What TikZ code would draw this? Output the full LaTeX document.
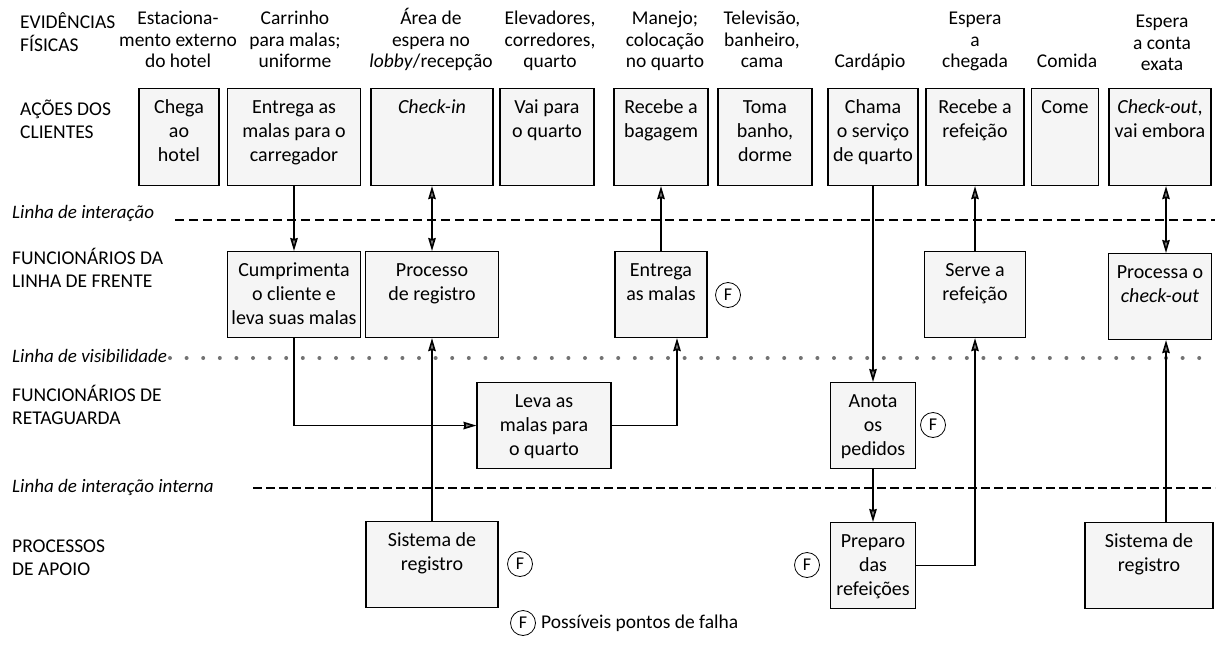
\documentclass[tikz,border=0pt]{standalone}
\usepackage{fontspec}
\setmainfont{Carlito}
\usetikzlibrary{arrows.meta,positioning}

\tikzset{
  lane/.style={anchor=base west, align=left, inner sep=0pt, font=\fontsize{19.5}{23}\selectfont},
  sepline/.style={anchor=base west, inner sep=0pt, font=\fontsize{19}{22}\selectfont\itshape},
  hdr/.style={anchor=base, align=center, inner sep=0pt, font=\fontsize{19.5}{21.5}\selectfont},
  box/.style={draw, fill=black!4, line width=1.1pt, anchor=north, align=flush center,
    inner xsep=0pt, inner ysep=10pt, text height=15pt, font=\fontsize{20}{24}\selectfont},
  actbox/.style={box, text width=#1, text depth=62pt},
  stdbox/.style={box, text width=#1, text depth=51pt},
  fail/.style={circle, draw, line width=0.8pt, minimum size=25pt, inner sep=0pt, font=\fontsize{18}{18}\selectfont},
  arr/.style={line width=1.6pt, -{Stealth[length=13pt, width=7.5pt, inset=1pt, fill=black!50]}},
  darr/.style={line width=1.6pt, {Stealth[length=13pt, width=7.5pt, inset=1pt, fill=black!50]}-{Stealth[length=13pt, width=7.5pt, inset=1pt, fill=black!50]}},
}

\begin{document}
\begin{tikzpicture}[x=1pt, y=-1pt]
  \useasboundingbox (0,0) rectangle (1222,666);

  % swimlane titles
  \node[lane] (ev) at (20,52) {EVIDÊNCIAS\\FÍSICAS};
  \node[lane] (ac) at (20,138) {AÇÕES DOS\\CLIENTES};
  \node[lane] (fr) at (12,287) {FUNCIONÁRIOS DA\\LINHA DE FRENTE};
  \node[lane] (rt) at (12,424) {FUNCIONÁRIOS DE\\RETAGUARDA};
  \node[lane] (ap) at (12,575) {PROCESSOS\\DE APOIO};

  \node[sepline] (li) at (12,218) {Linha de interação};
  \node[sepline] (lv) at (12,362) {Linha de visibilidade};
  \node[sepline] (lii) at (12,492) {Linha de interação interna};

  \draw[line width=1.3pt, dash pattern=on 9pt off 5pt] (175,220) -- (1215,220);
  \draw[black!55, line width=4pt, line cap=round, dash pattern=on 0pt off 16.6pt] (170,358) -- (1215,358);
  \draw[line width=1.8pt, dash pattern=on 9pt off 4pt] (253,488) -- (1215,488);

  % evidencias fisicas
  \node[hdr] (h1) at (178,68) {Estaciona-\\mento externo\\do hotel};
  \node[hdr] (h2) at (295,68) {Carrinho\\para malas;\\uniforme};
  \node[hdr] (h3) at (431,68) {Área de\\espera no\\\textit{lobby}/recepção};
  \node[hdr] (h4) at (550,68) {Elevadores,\\corredores,\\quarto};
  \node[hdr] (h5) at (665,68) {Manejo;\\colocação\\no quarto};
  \node[hdr] (h6) at (762,68) {Televisão,\\banheiro,\\cama};
  \node[hdr] (h7) at (870,68) {Cardápio};
  \node[hdr] (h8) at (975,68) {Espera\\a\\chegada};
  \node[hdr] (h9) at (1067,68) {Comida};
  \node[hdr] (h10) at (1162,71) {Espera\\a conta\\exata};

  % acoes dos clientes
  \node[actbox=80pt] (chega) at (179,88) {Chega\\ao\\hotel};
  \node[actbox=133pt] (entmalas) at (294,88) {Entrega as\\malas para o\\carregador};
  \node[actbox=122pt] (checkin) at (432,88) {\textit{Check-in}};
  \node[actbox=94pt] (vaiquarto) at (547,88) {Vai para\\o quarto};
  \node[actbox=94pt] (bagagem) at (661,88) {Recebe a\\bagagem};
  \node[actbox=94pt] (banho) at (765,88) {Toma\\banho,\\dorme};
  \node[actbox=90pt] (chama) at (873,88) {Chama\\o serviço\\de quarto};
  \node[actbox=98pt] (recref) at (975,88) {Recebe a\\refeição};
  \node[actbox=67pt] (come) at (1065,88) {Come};
  \node[actbox=102pt] (checkout) at (1160,88) {\textit{Check-out},\\vai embora};

  % linha de frente
  \node[stdbox=133pt] (cumpr) at (294,251) {Cumprimenta\\o cliente e\\leva suas malas};
  \node[stdbox=133pt] (registro) at (432,251) {Processo\\de registro};
  \node[stdbox=92pt] (entrega) at (661,251) {Entrega\\as malas};
  \node[stdbox=101pt] (serve) at (975,251) {Serve a\\refeição};
  \node[stdbox=103pt] (processa) at (1160,253) {Processa o\\\textit{check-out}};

  % retaguarda
  \node[stdbox=134pt] (leva) at (544,382) {Leva as\\malas para\\o quarto};
  \node[stdbox=85pt] (anota) at (873,382) {Anota\\os\\pedidos};

  % apoio
  \node[stdbox=132pt] (sistema) at (432,521) {Sistema de\\registro};
  \node[stdbox=85pt] (preparo) at (873,522) {Preparo\\das\\refeições};
  \node[stdbox=128pt] (sistema2) at (1149,522) {Sistema de\\registro};

  % pontos de falha
  \node[fail] (f1) at (728,295) {F};
  \node[fail] (f2) at (933,425) {F};
  \node[fail] (f3) at (520,564) {F};
  \node[fail] (f4) at (807,565) {F};
  \node[fail] (f5) at (523,623) {F};
  \node[right=5pt of f5, inner sep=0pt, font=\fontsize{19.5}{22}\selectfont] (leg) {Possíveis pontos de falha};

  % fluxo
  \draw[arr] (entmalas) -- (cumpr);
  \draw[darr] (checkin) -- (registro);
  \draw[arr] (sistema) -- (registro);
  \draw[arr] (cumpr.south) |- (leva.west);
  \draw[arr] (leva.east) -| ([xshift=16pt]entrega.south);
  \draw[arr] (entrega) -- (bagagem);
  \draw[arr] (chama) -- (anota);
  \draw[arr] (anota) -- (preparo);
  \draw[arr] (preparo.east) -| (serve.south);
  \draw[arr] (serve) -- (recref);
  \draw[darr] ([xshift=6pt]checkout.south) -- ([xshift=6pt]processa.north);
  \draw[arr] ([xshift=17pt]sistema2.north) -- ([xshift=6pt]processa.south);
\end{tikzpicture}
\end{document}
